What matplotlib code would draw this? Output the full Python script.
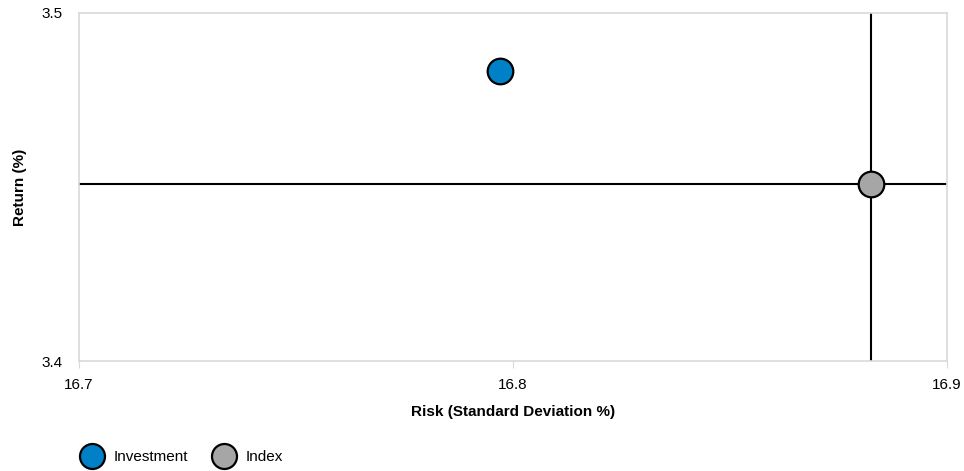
import matplotlib.pyplot as plt
from matplotlib.lines import Line2D

plt.rcParams['font.family'] = ['Liberation Sans', 'DejaVu Sans']

# data
names = ["Investment", "Index"]
risk = [16.797, 16.8826]
ret = [3.4834, 3.4509]
colors = ["#0080C6", "#A6A6A6"]

x_ticks = [16.7, 16.8, 16.9]
y_ticks = [3.4, 3.5]

fig = plt.figure(figsize=(9.64, 4.71), dpi=100)
ax = fig.add_axes([0.082, 0.2335, 0.9, 0.739])

# crosshair through the index
ax.axvline(risk[1], color='black', lw=1.5, zorder=2)
ax.axhline(ret[1], color='black', lw=1.5, zorder=2)

for x, y, c in zip(risk, ret, colors):
    ax.scatter([x], [y], s=340, color=c, edgecolor='black', linewidth=1.6, zorder=3)

ax.set_xlim(16.7, 16.9)
ax.set_ylim(3.4, 3.5)
ax.set_xticks(x_ticks)
ax.set_yticks(y_ticks)
ax.set_xticklabels([f"{v:.1f}" for v in x_ticks])
ax.set_yticklabels([f"{v:.1f}" for v in y_ticks])
ax.tick_params(axis='x', length=5, color='#D9D9D9', labelsize=11, pad=7.5)
ax.tick_params(axis='y', length=0, labelsize=11, pad=11.5)

for s in ax.spines.values():
    s.set_color('#D9D9D9')
    s.set_linewidth(1.2)

ax.set_xlabel("Risk (Standard Deviation %)", fontsize=11, fontweight='bold', labelpad=9)
ax.set_ylabel("Return (%)", fontsize=11, fontweight='bold', labelpad=11)

handles = [Line2D([], [], marker='o', ls='', markersize=18, markerfacecolor=c,
                  markeredgecolor='black', markeredgewidth=1.6) for c in colors]
fig.legend(handles, names, loc='center left', bbox_to_anchor=(0.0825, 0.029),
           ncol=2, frameon=False, fontsize=11, handletextpad=0.66, columnspacing=1.5,
           handlelength=1.6, borderpad=0, borderaxespad=0)

fig.savefig("out.png", dpi=100)
